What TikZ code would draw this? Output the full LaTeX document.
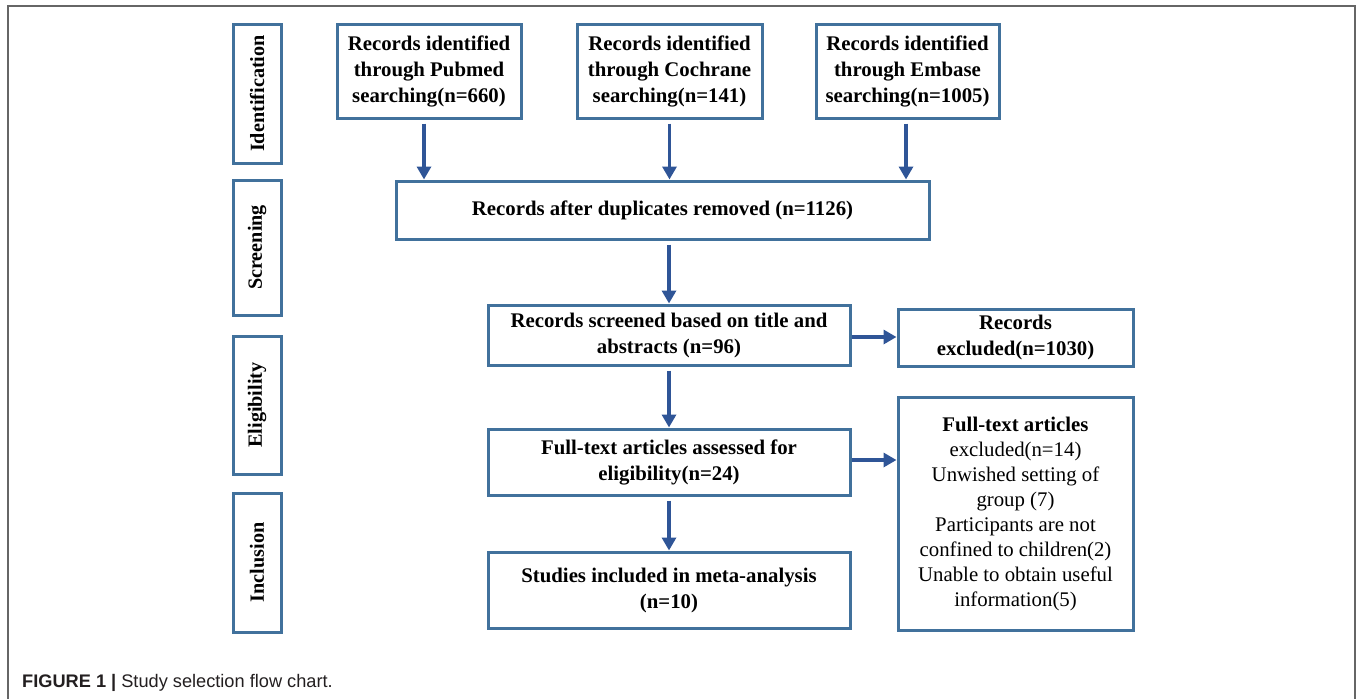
\documentclass[tikz,border=0pt]{standalone}
\usepackage{fontspec}
\setmainfont{Liberation Serif}
\newfontfamily\capfont{Liberation Sans}
\usetikzlibrary{arrows.meta,calc}
\definecolor{boxblue}{HTML}{41719C}
\definecolor{arrblue}{HTML}{2F5597}
\definecolor{framegray}{HTML}{666666}
\definecolor{captext}{HTML}{231F20}
\tikzset{
  box/.style={draw=boxblue, line width=3pt, fill=white, align=center, inner sep=2pt,
    font=\fontsize{20.8}{26}\selectfont\bfseries},
  plainbox/.style={box, font=\fontsize{20.8}{25}\selectfont},
  sidebox/.style={box, rotate=90, minimum height=48pt, font=\fontsize{20.2}{24}\selectfont\bfseries},
  arr/.style={draw=arrblue, line width=3.5pt, -{Triangle[width=14pt,length=13pt]}, shorten <=4pt}
}
\begin{document}
\begin{tikzpicture}[x=1pt,y=-1pt]
\useasboundingbox (0,0) rectangle (1357,699);
\draw[framegray, line width=1.6pt] (8,699) -- (8,6) -- (1355,6) -- (1355,699);

% side labels
\node[sidebox, minimum width=139pt] (ident) at (257,93.5) {Identification};
\node[sidebox, minimum width=135pt] (scrn) at (257,247.5) {Screening};
\node[sidebox, minimum width=138pt] (elig) at (257,405) {Eligibility};
\node[sidebox, minimum width=139pt] (incl) at (257,562.5) {Inclusion};

% boxes
\node[box, minimum width=184pt, minimum height=94pt] (pub) at (429,71) {Records identified\\through Pubmed\\searching(n=660)};
\node[box, minimum width=185pt, minimum height=94pt] (coch) at (669.5,71) {Records identified\\through Cochrane\\searching(n=141)};
\node[box, minimum width=183pt, minimum height=94pt] (emb) at (907.5,71) {Records identified\\through Embase\\searching(n=1005)};
\node[box, minimum width=533pt, minimum height=58pt] (dup) at (662.5,210) {Records after duplicates removed (n=1126)};
\node[box, minimum width=362pt, minimum height=60pt] (scr) at (669,335) {Records screened based on title and\\abstracts (n=96)};
\node[box, minimum width=235pt, minimum height=57pt] (ex1) at (1015.5,337.5) {Records\\excluded(n=1030)};
\node[box, minimum width=362pt, minimum height=66pt] (full) at (669,462) {Full-text articles assessed for\\eligibility(n=24)};
\node[plainbox, minimum width=235pt, minimum height=233pt] (ex2) at (1015.5,513.5) {\textbf{Full-text articles}\\excluded(n=14)\\Unwished setting of\\group (7)\\Participants are not\\confined to children(2)\\Unable to obtain useful\\information(5)};
\node[box, minimum width=362pt, minimum height=76pt] (stud) at (669,590) {Studies included in meta-analysis\\(n=10)};

% arrows
\draw[arr] ($(pub.south)+(-5,0)$) -- ($(pub.south |- dup.north)+(-5,0)$);
\draw[arr] (coch.south) -- (coch.south |- dup.north);
\draw[arr] ($(emb.south)+(-1.5,0)$) -- ($(emb.south |- dup.north)+(-1.5,0)$);
\draw[arr] (scr.north |- dup.south) -- (scr.north);
\draw[arr, shorten <=0pt] ($(scr.east)+(0,2)$) -- ($(scr.east -| ex1.west)+(0,2)$);
\draw[arr] (scr.south) -- (full.north);
\draw[arr, shorten <=0pt] ($(full.east)+(0,-2)$) -- ($(full.east -| ex2.west)+(0,-2)$);
\draw[arr] (full.south) -- (stud.north);

% caption
\node[anchor=base west, inner sep=0pt, text=captext, font=\capfont\fontsize{18.2}{21}\selectfont] (cap) at (22,687) {\textbf{FIGURE 1 |} Study selection flow chart.};
\end{tikzpicture}
\end{document}
